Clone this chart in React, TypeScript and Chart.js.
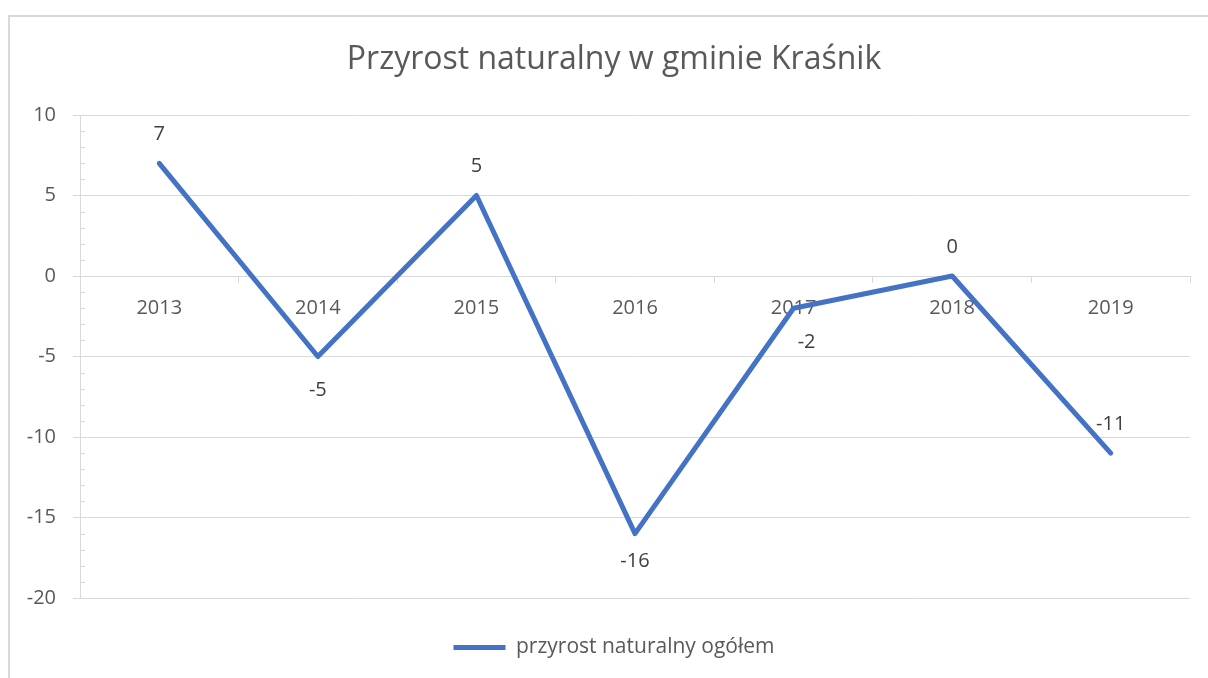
import React, { useEffect, useRef } from "react";
import { Chart, registerables } from "chart.js";

Chart.register(...registerables);

const years = ["2013", "2014", "2015", "2016", "2017", "2018", "2019"];
const przyrost = [7, -5, 5, -16, -2, 0, -11];
const labelSide = ["above", "below", "above", "below", "below", "above", "above"];
const labelShiftX = [0, 0, 0, 0, 13, 0, 0];
const labelShiftY = [0, 0, 0, -6, 0, 0, 0];
const yMin = -20;
const yMax = 10;
const yMajorStep = 5;

const FONT = "'Open Sans', Lato, sans-serif";
const GRID = "#d9d9d9";
const TEXT = "#595959";

const minorTicksPlugin = {
  id: "minorTicks",
  afterDraw(chart: any) {
    const y = chart.scales.y;
    const ctx = chart.ctx;
    ctx.save();
    ctx.strokeStyle = GRID;
    ctx.lineWidth = 1;
    for (const t of y.ticks) {
      if (t.value % yMajorStep !== 0) {
        const py = Math.round(y.getPixelForValue(t.value)) + 0.5;
        ctx.beginPath();
        ctx.moveTo(chart.chartArea.left, py);
        ctx.lineTo(chart.chartArea.left + 5, py);
        ctx.stroke();
      }
    }
    ctx.restore();
  },
};

const dataLabelPlugin = {
  id: "dataLabels",
  afterDatasetsDraw(chart: any) {
    const ctx = chart.ctx;
    const meta = chart.getDatasetMeta(0);
    ctx.save();
    ctx.font = `20px ${FONT}`;
    ctx.fillStyle = "#404040";
    ctx.textAlign = "center";
    ctx.textBaseline = "middle";
    meta.data.forEach((pt: any, i: number) => {
      const v = przyrost[i];
      const dy = labelSide[i] === "above" ? -29 : 34;
      ctx.fillText(String(v), pt.x + labelShiftX[i], pt.y + dy + labelShiftY[i]);
    });
    ctx.restore();
  },
};

export default function App() {
  const ref = useRef<HTMLCanvasElement>(null);
  useEffect(() => {
    if (!ref.current) return;
    const chart = new Chart(ref.current, {
      type: "line",
      data: {
        labels: years,
        datasets: [
          {
            label: "przyrost naturalny ogółem",
            data: przyrost,
            borderColor: "#4472C4",
            backgroundColor: "#4472C4",
            borderWidth: 5,
            borderCapStyle: "round",
            borderJoinStyle: "round",
            pointRadius: 0,
            pointHoverRadius: 0,
            tension: 0,
            yAxisID: "y",
          },
        ],
      },
      options: {
        animation: false,
        responsive: false,
        events: [],
        layout: { padding: { left: 20, right: 0, top: 0, bottom: 10 } },
        scales: {
          x: {
            type: "category",
            offset: true,
            position: { y: 0 } as any,
            grid: {
              offset: true,
              drawOnChartArea: false,
              drawTicks: true,
              tickLength: 6,
              color: GRID,
            },
            border: { color: GRID, width: 1 },
            ticks: {
              color: TEXT,
              font: { family: FONT, size: 20 },
              padding: 14,
              maxRotation: 0,
              autoSkip: false,
            },
          },
          y: {
            min: yMin,
            max: yMax,
            afterFit(scale: any) {
              scale.width = 60;
            },
            grid: {
              color: (c: any) => (c.tick && c.tick.value % yMajorStep === 0 ? GRID : "transparent"),
              tickLength: 7,
              lineWidth: 1,
            },
            border: { color: GRID, width: 1 },
            ticks: {
              stepSize: 1,
              maxTicksLimit: 100,
              autoSkip: false,
              color: TEXT,
              font: { family: FONT, size: 20 },
              padding: 17,
              callback: (v: any) => (Number(v) % yMajorStep === 0 ? String(v) : ""),
            },
          },
          spacer: {
            type: "linear",
            position: "right",
            min: yMin,
            max: yMax,
            afterFit(scale: any) {
              scale.width = 18;
            },
            grid: { drawOnChartArea: false, drawTicks: false, display: false },
            border: { display: false },
            ticks: { display: false },
          },
        },
        plugins: {
          title: {
            display: true,
            text: "Przyrost naturalny w gminie Kraśnik",
            color: TEXT,
            font: { family: FONT, size: 32, weight: "normal" },
            padding: { top: 41, bottom: 35.6 },
          },
          legend: {
            position: "bottom",
            labels: {
              usePointStyle: true,
              pointStyle: "line",
              pointStyleWidth: 52,
              color: TEXT,
              font: { family: FONT, size: 21 },
              padding: 39,
            },
          },
          tooltip: { enabled: false },
        },
      },
      plugins: [minorTicksPlugin, dataLabelPlugin],
    });
    return () => chart.destroy();
  }, []);

  return (
    <div style={{ position: "fixed", left: 0, top: 0, width: 1208, height: 678, background: "#fff", overflow: "hidden" }}>
      <div
        style={{
          position: "absolute",
          left: 8,
          top: 15,
          width: 1300,
          height: 800,
          borderLeft: `2px solid ${GRID}`,
          borderTop: `2px solid ${GRID}`,
        }}
      />
      <canvas ref={ref} width={1208} height={678} style={{ position: "absolute", left: 0, top: 0, width: 1208, height: 678 }} />
    </div>
  );
}
